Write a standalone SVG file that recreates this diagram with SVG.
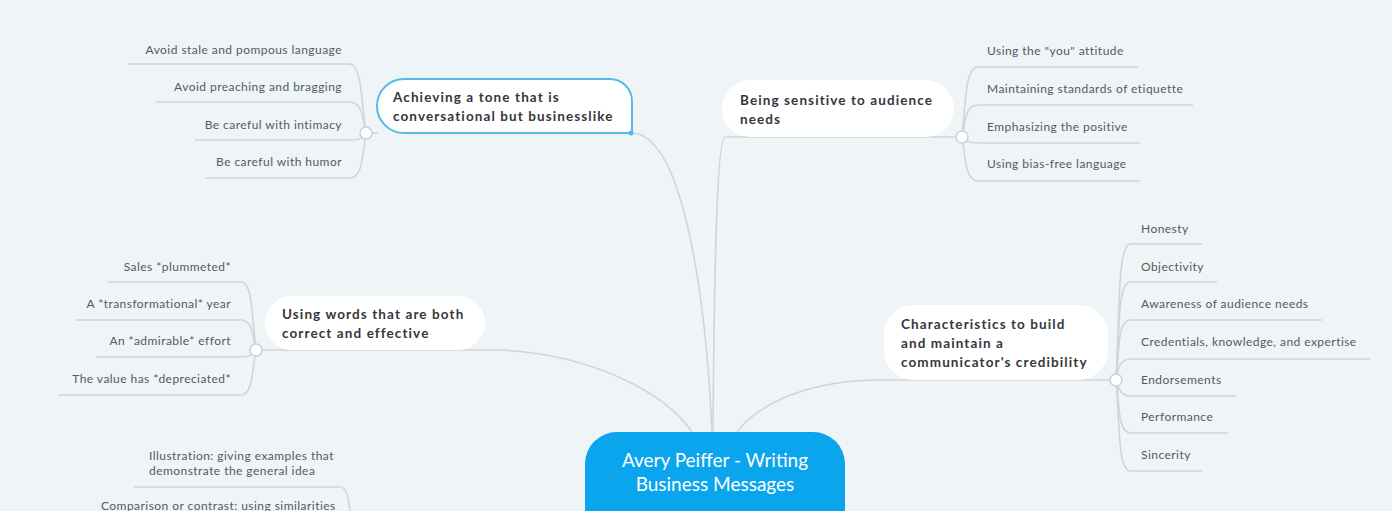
<svg xmlns="http://www.w3.org/2000/svg" width="1392" height="511" viewBox="0 0 1392 511">
<style>
.bg{fill:#eff4f7}
.ln{fill:none;stroke:#d0d5d9;stroke-width:1.6}
.dot{fill:#ffffff;stroke:#cdd2d6;stroke-width:1.6}
.leaf{font-family:Lato,"Open Sans","Liberation Sans",sans-serif;font-size:12px;fill:#555a5e;letter-spacing:0.45px}
.nt{font-family:Lato,"Open Sans","Liberation Sans",sans-serif;font-size:13.5px;font-weight:bold;fill:#34373a;letter-spacing:1.1px}
.node{fill:#ffffff}
.ct{font-family:Lato,"Open Sans","Liberation Sans",sans-serif;font-size:19px;fill:#ffffff}
</style>
<rect class="bg" x="0" y="0" width="1392" height="511"/>
<g id="connectors">
  <path class="ln" d="M631,133 C684,133 706,300 712,432"/>
  <path class="ln" d="M962,137 L725,137 C716,137 714,300 713,432"/>
  <path class="ln" d="M256,350 L500,350 C590,354 665,392 692,432"/>
  <path class="ln" d="M1116,380 L880,380 C812,380 760,402 737,432"/>
  <path class="ln" d="M366,133 L378,133"/>
  <path class="ln" d="M366,133 C361,100 362,66 350,64 L128,64"/>
  <path class="ln" d="M366,133 C362,115 362,103 350,102 L156,102"/>
  <path class="ln" d="M366,133 C364,138 360,140 350,140 L195,140"/>
  <path class="ln" d="M366,133 C362,160 362,177 350,178 L205,178"/>
  <path class="ln" d="M962,137 C966,100 965,68 978,67 L1138,67"/>
  <path class="ln" d="M962,137 C966,118 965,106 978,105 L1193,105"/>
  <path class="ln" d="M962,137 C964,141 968,143 978,143 L1140,143"/>
  <path class="ln" d="M962,137 C966,160 965,180 978,181 L1140,181"/>
  <path class="ln" d="M1116,380 C1120,300 1118,246 1130,244 L1202,244"/>
  <path class="ln" d="M1116,380 C1120,320 1118,284 1130,282 L1217,282"/>
  <path class="ln" d="M1116,380 C1120,340 1118,322 1130,320 L1322,320"/>
  <path class="ln" d="M1116,380 C1119,365 1120,360 1130,359 L1371,359"/>
  <path class="ln" d="M1116,380 C1118,390 1122,396 1130,396 L1236,396"/>
  <path class="ln" d="M1116,380 C1120,410 1118,431 1130,433 L1228,433"/>
  <path class="ln" d="M1116,380 C1120,430 1118,469 1130,471 L1203,471"/>
  <path class="ln" d="M256,350 C252,320 253,284 242,282 L108,282"/>
  <path class="ln" d="M256,350 C252,335 253,322 242,320 L75,320"/>
  <path class="ln" d="M256,350 C254,354 250,357 242,357 L96,357"/>
  <path class="ln" d="M256,350 C252,370 253,393 242,395 L58,395"/>
  <path class="ln" d="M133,487 L340,487 C346,487 348,495 350,511"/>
</g>
<g id="center">
  <rect x="585" y="432" width="260" height="110" rx="32" fill="#0ba5ee"/>
  <text class="ct" x="715" y="467" text-anchor="middle">Avery Peiffer - Writing</text>
  <text class="ct" x="715" y="491" text-anchor="middle">Business Messages</text>
</g>
<g id="n-achieving">
  <path d="M404,79 H610 A22,22 0 0 1 632,101 V133 H404 A27,27 0 0 1 404,79 Z" fill="#ffffff" stroke="#55b9ea" stroke-width="2"/>
  <circle cx="631" cy="133" r="2.5" fill="#55b9ea"/>
  <text class="nt" x="393" y="102">Achieving a tone that is</text>
  <text class="nt" x="393" y="121">conversational but businesslike</text>
  <circle class="dot" cx="366" cy="133" r="6"/>
  <g class="leaf" text-anchor="end">
    <text x="342" y="54">Avoid stale and pompous language</text>
    <text x="342" y="91">Avoid preaching and bragging</text>
    <text x="342" y="129">Be careful with intimacy</text>
    <text x="342" y="166">Be careful with humor</text>
  </g>
</g>
<g id="n-sensitive">
  <rect class="node" x="722" y="80" width="232" height="57" rx="28"/>
  <text class="nt" x="740" y="105">Being sensitive to audience</text>
  <text class="nt" x="740" y="124">needs</text>
  <circle class="dot" cx="962" cy="137" r="6"/>
  <g class="leaf">
    <text x="987" y="55">Using the "you" attitude</text>
    <text x="987" y="93">Maintaining standards of etiquette</text>
    <text x="987" y="131">Emphasizing the positive</text>
    <text x="987" y="168">Using bias-free language</text>
  </g>
</g>
<g id="n-words">
  <rect class="node" x="265" y="296" width="220" height="54" rx="27"/>
  <text class="nt" x="282" y="319">Using words that are both</text>
  <text class="nt" x="282" y="338">correct and effective</text>
  <circle class="dot" cx="256" cy="350" r="6"/>
  <g class="leaf" text-anchor="end">
    <text x="231" y="271">Sales *plummeted*</text>
    <text x="231" y="308">A *transformational* year</text>
    <text x="231" y="345">An *admirable* effort</text>
    <text x="231" y="383">The value has *depreciated*</text>
  </g>
</g>
<g id="n-credibility">
  <rect class="node" x="884" y="305" width="224" height="75" rx="30"/>
  <text class="nt" x="901" y="329">Characteristics to build</text>
  <text class="nt" x="901" y="348">and maintain a</text>
  <text class="nt" x="901" y="367">communicator's credibility</text>
  <circle class="dot" cx="1116" cy="380" r="6"/>
  <g class="leaf">
    <text x="1141" y="233">Honesty</text>
    <text x="1141" y="271">Objectivity</text>
    <text x="1141" y="308">Awareness of audience needs</text>
    <text x="1141" y="346">Credentials, knowledge, and expertise</text>
    <text x="1141" y="384">Endorsements</text>
    <text x="1141" y="421">Performance</text>
    <text x="1141" y="459">Sincerity</text>
  </g>
</g>
<g id="n-bottom-left">
  <g class="leaf">
    <text x="149" y="460">Illustration: giving examples that</text>
    <text x="149" y="475">demonstrate the general idea</text>
    <text x="101" y="510">Comparison or contrast: using similarities</text>
  </g>
</g>
</svg>
